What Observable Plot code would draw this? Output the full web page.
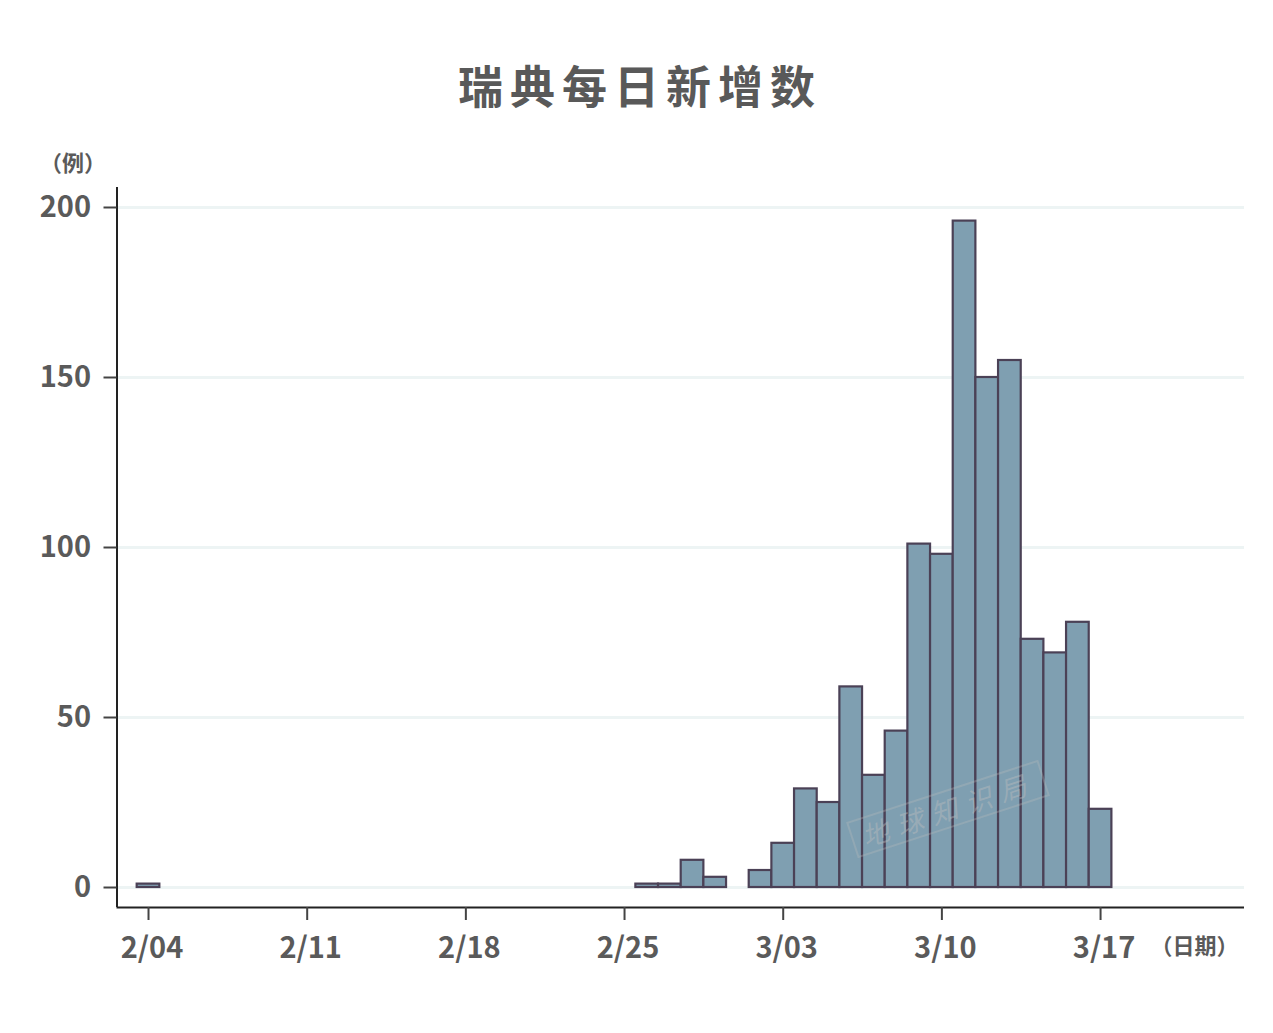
<!DOCTYPE html>
<html lang="zh">
<head>
<meta charset="utf-8">
<script src="https://cdn.jsdelivr.net/npm/d3@7"></script>
<script src="https://cdn.jsdelivr.net/npm/@observablehq/plot@0.6"></script>
<style>
html,body{margin:0;padding:0;background:#fff;}
#page{position:relative;width:1273px;height:1033px;overflow:hidden;font-family:"Noto Sans CJK SC","Noto Sans",sans-serif;}
#title{position:absolute;left:0;top:54px;width:1280px;text-align:center;font-size:45px;line-height:62px;font-weight:700;letter-spacing:7px;color:#595959;}
#chart{position:absolute;left:0;top:130px;}
#chart svg{display:block;}
#mark{position:absolute;left:847px;top:790px;width:202px;height:38px;box-sizing:border-box;border:2px solid rgba(190,190,190,.3);transform:rotate(-18deg);text-align:center;white-space:nowrap;line-height:34px;font-size:27px;letter-spacing:9px;font-style:italic;color:rgba(190,190,190,.42);}
</style>
</head>
<body>
<div id="page">
<div id="title">瑞典每日新增数</div>
<div id="chart"></div>
<div id="mark">地球知识局</div>
</div>
<script>
const dates = ["2020-02-04","2020-02-26","2020-02-27","2020-02-28","2020-02-29","2020-03-02","2020-03-03","2020-03-04","2020-03-05","2020-03-06","2020-03-07","2020-03-08","2020-03-09","2020-03-10","2020-03-11","2020-03-12","2020-03-13","2020-03-14","2020-03-15","2020-03-16","2020-03-17"];
const cases = [1,1,1,8,3,5,13,29,25,59,33,46,101,98,196,150,155,73,69,78,23];
const xTicks = ["2020-02-04","2020-02-11","2020-02-18","2020-02-25","2020-03-03","2020-03-10","2020-03-17"].map(d => new Date(d));
const yTicks = [0,50,100,150,200];
const rows = dates.map((d,i) => ({date:new Date(d), value:cases[i]}));
const xDomain = [new Date("2020-02-02T14:38:00Z"), new Date("2020-03-23T08:24:00Z")];
const yDomain = [-5.88, 205.88];
const ink = "#5a5a5a";
const tickFont = {fontSize:29, fontWeight:700, fill:ink};

const chart = Plot.plot({
  width:1273, height:870,
  marginLeft:116.5, marginRight:29, marginTop:57, marginBottom:93,
  style:{background:"transparent", fontFamily:'"Noto Sans CJK SC","Noto Sans",sans-serif'},
  x:{type:"utc", domain:xDomain},
  y:{domain:yDomain},
  marks:[
    Plot.gridY(yTicks,{stroke:"#edf4f4", strokeOpacity:1, strokeWidth:3}),
    Plot.rectY(rows,{
      x1:d => d3.utcHour.offset(d.date,-12),
      x2:d => d3.utcHour.offset(d.date,12),
      y1:0, y2:"value",
      fill:"#7f9fb1", stroke:"#4b4156", strokeWidth:2.2, inset:0
    }),
    Plot.ruleY([yDomain[0]],{stroke:"#222", strokeWidth:2}),
    Plot.ruleX([xDomain[0]],{stroke:"#222", strokeWidth:2}),
    Plot.axisX({ticks:xTicks, tickSize:13, tickFormat:()=>"", stroke:"#444", strokeWidth:2, label:null}),
    Plot.axisX({ticks:xTicks, tickSize:0, tickPadding:30, tickFormat:d3.utcFormat("%-m/%d"), label:null, dx:3.5, ...tickFont}),
    Plot.axisY({ticks:yTicks, tickSize:13, tickFormat:()=>"", stroke:"#444", strokeWidth:2, label:null}),
    Plot.axisY({ticks:yTicks, tickSize:0, tickPadding:26, label:null, ...tickFont}),
    Plot.text(["（例）"],{frameAnchor:"top-left", dx:-77, dy:-32, textAnchor:"start", fontSize:22, fontWeight:700, fill:ink}),
    Plot.text(["（日期）"],{frameAnchor:"bottom-right", dx:-6, dy:46, textAnchor:"end", fontSize:22, fontWeight:700, fill:ink})
  ]
});
document.getElementById("chart").appendChild(chart);
</script>
</body>
</html>
